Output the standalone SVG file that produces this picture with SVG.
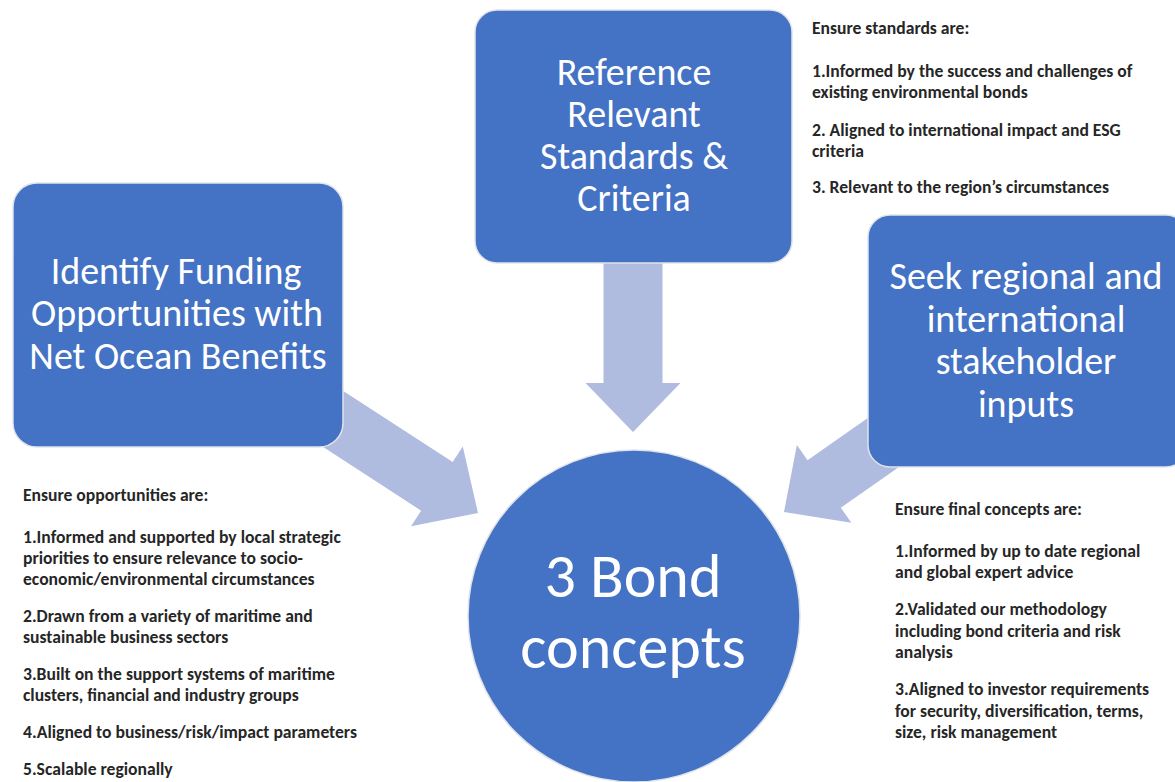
<svg xmlns="http://www.w3.org/2000/svg" width="1175" height="782" viewBox="0 0 1175 782">
  <style>
    .box { fill: #4472C4; stroke: #dfe3ea; stroke-width: 1.5; }
    .arrow { fill: #AFBCDF; }
    .big { font-family: Carlito, Calibri, Lato, "Open Sans", sans-serif; fill: #ffffff; text-anchor: middle; }
    .note { font-family: Carlito, Calibri, Lato, "Open Sans", sans-serif; font-weight: bold; font-size: 17.6px; fill: #262626; }
  </style>
  <rect width="1175" height="782" fill="#ffffff"/>

  <g id="connectors">
    <polygon class="arrow" transform="translate(633,432) rotate(90)" points="0,0 -49,-47.5 -49,-29.5 -178,-29.5 -178,29.5 -49,29.5 -49,47.5"/>
    <polygon class="arrow" transform="translate(478,513) rotate(33)" points="0,0 -49,-47.5 -49,-29 -185,-29 -185,29 -49,29 -49,47.5"/>
    <polygon class="arrow" transform="translate(784,512) rotate(145)" points="0,0 -49,-47.5 -49,-29 -185,-29 -185,29 -49,29 -49,47.5"/>
  </g>

  <g id="node-standards">
    <rect class="box" x="475" y="10" width="317" height="253" rx="22"/>
    <text class="big" font-size="38" x="634" y="85">Reference</text>
    <text class="big" font-size="38" x="634" y="127">Relevant</text>
    <text class="big" font-size="38" x="634" y="169">Standards &amp;</text>
    <text class="big" font-size="38" x="634" y="211">Criteria</text>
  </g>

  <g id="node-funding">
    <rect class="box" x="13" y="183" width="330" height="264" rx="24"/>
    <text class="big" font-size="38" x="176" y="284">Identify Funding</text>
    <text class="big" font-size="38" x="177" y="326">Opportunities with</text>
    <text class="big" font-size="38" x="178" y="369">Net Ocean Benefits</text>
  </g>

  <g id="node-stakeholder">
    <rect class="box" x="868" y="215" width="320" height="252" rx="22"/>
    <text class="big" font-size="38" x="1026" y="289">Seek regional and</text>
    <text class="big" font-size="38" x="1026" y="332">international</text>
    <text class="big" font-size="38" x="1026" y="374">stakeholder</text>
    <text class="big" font-size="38" x="1026" y="417">inputs</text>
  </g>

  <g id="node-bond">
    <circle class="box" cx="634" cy="616" r="166"/>
    <text class="big" font-size="62" x="633" y="597">3 Bond</text>
    <text class="big" font-size="62" x="633" y="668">concepts</text>
  </g>

  <g id="notes-standards" class="note">
    <text x="812" y="34">Ensure standards are:</text>
    <text x="812" y="77">1.Informed by the success and challenges of</text>
    <text x="812" y="98">existing environmental bonds</text>
    <text x="812" y="136">2. Aligned to international impact and ESG</text>
    <text x="812" y="157">criteria</text>
    <text x="812" y="193">3. Relevant to the region’s circumstances</text>
  </g>

  <g id="notes-funding" class="note">
    <text x="23" y="501">Ensure opportunities are:</text>
    <text x="23" y="543">1.Informed and supported by local strategic</text>
    <text x="23" y="564">priorities to ensure relevance to socio-</text>
    <text x="23" y="585">economic/environmental circumstances</text>
    <text x="23" y="622">2.Drawn from a variety of maritime and</text>
    <text x="23" y="643">sustainable business sectors</text>
    <text x="23" y="680">3.Built on the support systems of maritime</text>
    <text x="23" y="701">clusters, financial and industry groups</text>
    <text x="23" y="738">4.Aligned to business/risk/impact parameters</text>
    <text x="23" y="775">5.Scalable regionally</text>
  </g>

  <g id="notes-stakeholder" class="note">
    <text x="895" y="515">Ensure final concepts are:</text>
    <text x="895" y="557">1.Informed by up to date regional</text>
    <text x="895" y="578">and global expert advice</text>
    <text x="895" y="615">2.Validated our methodology</text>
    <text x="895" y="637">including bond criteria and risk</text>
    <text x="895" y="658">analysis</text>
    <text x="895" y="695">3.Aligned to investor requirements</text>
    <text x="895" y="717">for security, diversification, terms,</text>
    <text x="895" y="738">size, risk management</text>
  </g>
</svg>
